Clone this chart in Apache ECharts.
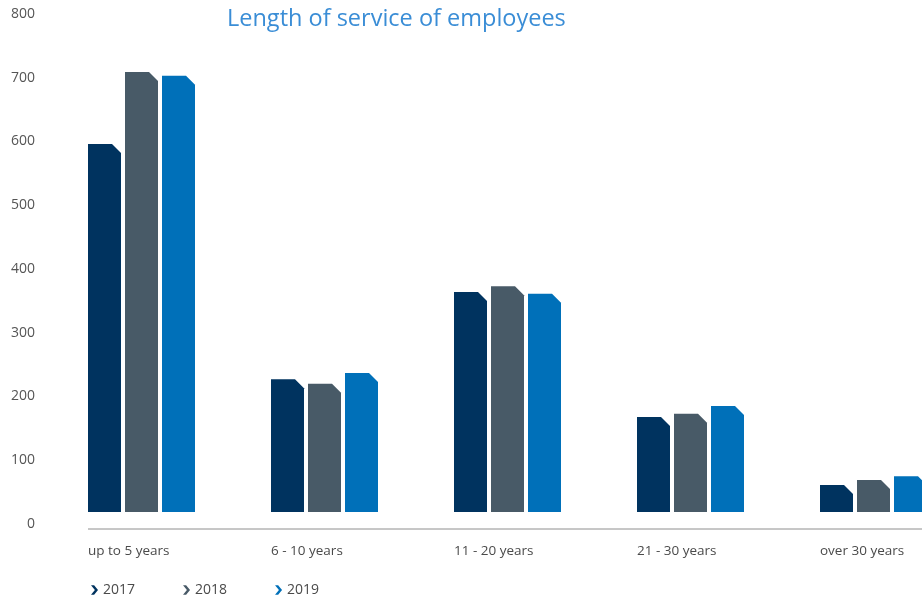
<!DOCTYPE html>
<html>
<head>
<meta charset="utf-8">
<script src="https://cdn.jsdelivr.net/npm/echarts@6/dist/echarts.min.js"></script>
<style>
  html, body { margin: 0; padding: 0; background: #ffffff; overflow: hidden; }
  /* the plot runs past the right edge of the page, so the last group is cut off */
  #chart { width: 965px; height: 598px; }
</style>
</head>
<body>
<div id="chart"></div>
<script>
// Headcount by length of service, per year
const categories = ['up to 5 years', '6 - 10 years', '11 - 20 years', '21 - 30 years', 'over 30 years'];
const years = ['2017', '2018', '2019'];
const values2017 = [596, 227, 364, 168, 61];
const values2018 = [709, 220, 373, 173, 69];
const values2019 = [703, 237, 361, 185, 75];
const yTicks = [0, 100, 200, 300, 400, 500, 600, 700, 800];

const seriesValues = [values2017, values2018, values2019];
const colors = ['#00335f', '#485a67', '#0070b9'];

const FONT = '"Open Sans", "Noto Sans", sans-serif';
const BAR_W = 33;      // width of one bar
const BAR_STEP = 37;   // distance between neighbouring bars in a group
const CHAMFER = 9;     // cut on the top-right corner
const BASE_GAP = 12;   // bars float slightly above the baseline
const GROUP_HALF = BAR_STEP + BAR_W / 2;

// Bar with a chamfered top-right corner
function barRenderer(k) {
  return function (params, api) {
    const cat = api.value(0);
    const top = api.coord([cat, api.value(1)]);
    const base = api.coord([cat, 0]);
    const x0 = top[0] + (k - 1) * BAR_STEP - BAR_W / 2;
    const x1 = x0 + BAR_W;
    const yTop = top[1];
    const yBot = base[1] - BASE_GAP;
    return {
      type: 'polygon',
      shape: { points: [[x0, yBot], [x0, yTop], [x1 - CHAMFER, yTop], [x1, yTop + CHAMFER], [x1, yBot]] },
      style: api.style()
    };
  };
}

// Baseline segment and left-aligned category label for each group
function categoryRenderer(params, api) {
  const cat = api.value(0);
  const c = api.coord([cat, 0]);
  const band = api.size([1, 0])[0];
  const groupLeft = c[0] - GROUP_HALF;
  const lineStart = params.dataIndex === 0 ? groupLeft : c[0] - band / 2;
  return {
    type: 'group',
    children: [
      {
        type: 'line',
        shape: { x1: lineStart, y1: c[1] + 5, x2: c[0] + band / 2, y2: c[1] + 5 },
        style: { stroke: '#8e8e8e', lineWidth: 1 }
      },
      {
        type: 'text',
        x: groupLeft,
        y: c[1] + 27,
        style: {
          text: categories[cat],
          fill: '#4a4a4a',
          font: '13.5px ' + FONT,
          textAlign: 'left',
          textVerticalAlign: 'middle'
        }
      }
    ]
  };
}

const series = years.map((y, k) => ({
  name: y,
  type: 'custom',
  renderItem: barRenderer(k),
  itemStyle: { color: colors[k] },
  encode: { x: 0, y: 1 },
  data: seriesValues[k].map((v, i) => [i, v])
}));

series.push({
  name: 'categories',
  type: 'custom',
  renderItem: categoryRenderer,
  encode: { x: 0, y: 1 },
  silent: true,
  data: categories.map((c, i) => [i, 0])
});

const chart = echarts.init(document.getElementById('chart'), null, { renderer: 'canvas' });
chart.setOption({
  animation: false,
  backgroundColor: '#ffffff',
  title: {
    text: 'Length of service of employees',
    left: 222,
    top: 2,
    textStyle: { color: '#3a8dd6', fontSize: 23.5, fontWeight: 'normal', fontFamily: FONT }
  },
  legend: {
    data: years,
    left: 86,
    top: 578,
    icon: 'path://M0,0 L4,0 L9,6 L4,12 L0,12 L5,6 Z',
    itemWidth: 7,
    itemHeight: 10,
    itemGap: 48,
    textStyle: { color: '#4a4a4a', fontSize: 14, fontFamily: FONT }
  },
  grid: { left: 50, top: 14, bottom: 74, right: 0 },
  xAxis: {
    type: 'category',
    data: categories,
    boundaryGap: true,
    axisLine: { show: false },
    axisTick: { show: false },
    axisLabel: { show: false },
    splitLine: { show: false }
  },
  yAxis: {
    type: 'value',
    min: yTicks[0],
    max: yTicks[yTicks.length - 1],
    interval: yTicks[1] - yTicks[0],
    axisLine: { show: false },
    axisTick: { show: false },
    splitLine: { show: false },
    axisLabel: { color: '#555555', fontSize: 14, fontFamily: FONT, margin: 15 }
  },
  series: series
});
</script>
</body>
</html>
